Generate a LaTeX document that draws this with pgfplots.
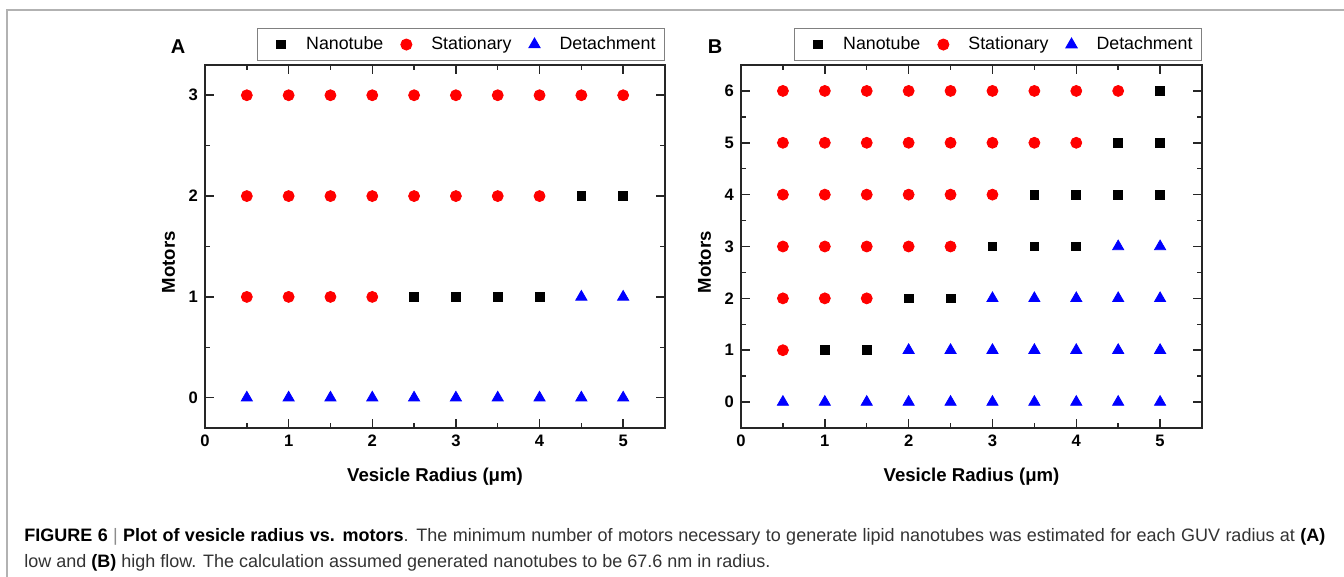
\documentclass[border=0pt]{standalone}
\usepackage{fontspec}
\setmainfont{Liberation Sans}
\usepackage{pgfplots}
\pgfplotsset{compat=1.18}

\pgfplotsset{
  motors/.style={
    scale only axis, width=230pt, height=181.5pt,
    xmin=0, xmax=5.5, xtick={0,1,2,3,4,5}, minor x tick num=1,
    minor y tick num=1,
    axis line style={black!85, line width=0.75pt},
    major tick length=4.5pt, minor tick length=2.5pt,
    tick style={black!85, line width=0.75pt},
    tick label style={font=\fontsize{8.3}{9}\selectfont\bfseries},
    /pgf/number format/assume math mode=true,
    label style={font=\fontsize{9.3}{11}\selectfont\bfseries},
    xlabel={Vesicle Radius (μm)},
    xlabel style={yshift=-3.5pt},
    ylabel={Motors},
    ylabel style={at={(ticklabel cs:0.457)}},
    legend columns=3,
    legend style={at={(1,1)}, anchor=south east, yshift=2pt, draw=gray,
      line width=0.5pt, font=\fontsize{8.9}{10}\selectfont, inner xsep=2.5pt,
      /tikz/every odd column/.append style={column sep=1pt}},
  },
  wideleg/.style={legend image code/.code={
      \path[draw=none, fill=none] (0pt,0pt) (19pt,0pt);
      \draw[##1, only marks] plot coordinates {(9.5pt,0pt)};}},
  nano/.style={only marks, mark=square*, mark size=2.2pt, color=black, wideleg},
  stat/.style={only marks, mark=*, mark size=2.75pt, color=red, wideleg},
  det/.style={only marks, mark=triangle*, mark size=3.2pt, color=blue, wideleg},
}

\begin{document}
\begin{tikzpicture}
\useasboundingbox (0,0) rectangle (672pt,288.5pt);
\fill[white] (0,0) rectangle (672pt,288.5pt);
\draw[gray!60, line width=0.75pt] (3.5pt,0) -- (3.5pt,283.5pt) -- (672pt,283.5pt);

% panel A: low flow
\begin{axis}[motors, at={(102.5pt,74.5pt)}, anchor=south west,
  ymin=-0.3, ymax=3.3, ytick={0,1,2,3}]
\addplot[nano] coordinates {(4.5,2) (5,2) (2.5,1) (3,1) (3.5,1) (4,1)};
\addplot[stat] coordinates {
  (0.5,3) (1,3) (1.5,3) (2,3) (2.5,3) (3,3) (3.5,3) (4,3) (4.5,3) (5,3)
  (0.5,2) (1,2) (1.5,2) (2,2) (2.5,2) (3,2) (3.5,2) (4,2)
  (0.5,1) (1,1) (1.5,1) (2,1)};
\addplot[det] coordinates {
  (4.5,1) (5,1)
  (0.5,0) (1,0) (1.5,0) (2,0) (2.5,0) (3,0) (3.5,0) (4,0) (4.5,0) (5,0)};
\legend{Nanotube, Stationary, Detachment}
\end{axis}

% panel B: high flow
\begin{axis}[motors, at={(370.5pt,74.5pt)}, anchor=south west, width=230.5pt,
  ymin=-0.5, ymax=6.5, ytick={0,1,2,3,4,5,6}]
\addplot[nano] coordinates {
  (5,6) (4.5,5) (5,5) (3.5,4) (4,4) (4.5,4) (5,4)
  (3,3) (3.5,3) (4,3) (2,2) (2.5,2) (1,1) (1.5,1)};
\addplot[stat] coordinates {
  (0.5,6) (1,6) (1.5,6) (2,6) (2.5,6) (3,6) (3.5,6) (4,6) (4.5,6)
  (0.5,5) (1,5) (1.5,5) (2,5) (2.5,5) (3,5) (3.5,5) (4,5)
  (0.5,4) (1,4) (1.5,4) (2,4) (2.5,4) (3,4)
  (0.5,3) (1,3) (1.5,3) (2,3) (2.5,3)
  (0.5,2) (1,2) (1.5,2)
  (0.5,1)};
\addplot[det] coordinates {
  (4.5,3) (5,3)
  (3,2) (3.5,2) (4,2) (4.5,2) (5,2)
  (2,1) (2.5,1) (3,1) (3.5,1) (4,1) (4.5,1) (5,1)
  (0.5,0) (1,0) (1.5,0) (2,0) (2.5,0) (3,0) (3.5,0) (4,0) (4.5,0) (5,0)};
\legend{Nanotube, Stationary, Detachment}
\end{axis}

\node[font=\fontsize{10}{11}\selectfont\bfseries] at (89pt,265pt) {A};
\node[font=\fontsize{10}{11}\selectfont\bfseries] at (357.5pt,265pt) {B};

\node[anchor=base west, inner sep=0pt, text=black!80] at (12pt,17.5pt)
  {\fontsize{9}{10}\selectfont\hbox to 650.5pt{\textcolor{black}{\bfseries FIGURE 6} {\color{black!45}|} \textcolor{black}{\bfseries Plot of vesicle radius vs. motors}. The minimum number of motors necessary to generate lipid nanotubes was estimated for each GUV radius at \textcolor{black}{\bfseries (A)}}};
\node[anchor=base west, inner sep=0pt, text=black!80] at (12pt,4.5pt)
  {\fontsize{9}{10}\selectfont low and \textcolor{black}{\bfseries (B)} high flow. The calculation assumed generated nanotubes to be 67.6 nm in radius.};
\end{tikzpicture}
\end{document}
